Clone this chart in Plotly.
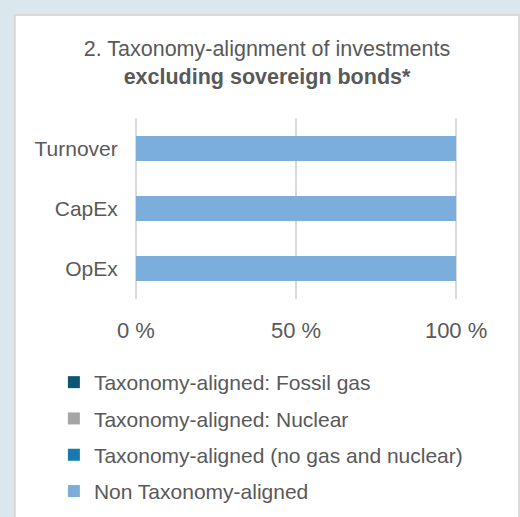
import plotly.graph_objects as go

categories = ["Turnover", "CapEx", "OpEx"]
series_names = [
    "Taxonomy-aligned: Fossil gas",
    "Taxonomy-aligned: Nuclear",
    "Taxonomy-aligned (no gas and nuclear)",
    "Non Taxonomy-aligned",
]
fossil_gas = [0, 0, 0]
nuclear = [0, 0, 0]
aligned_other = [0, 0, 0]
non_aligned = [100, 100, 100]
tick_values = [0, 50, 100]
tick_labels = ["0 %", "50 %", "100 %"]

colors = ["#0b5672", "#a5a5a5", "#167ab0", "#7caedc"]
series_values = [fossil_gas, nuclear, aligned_other, non_aligned]

W, H = 520, 517
pad = 0.6
x_lo, x_hi = -pad, 100 + pad
span_px = 320.0
unit = span_px / 100.0
L = 136 - pad * unit
pw = span_px + 2 * pad * unit
R = W - L - pw
T, B = 118, 218
ph = H - T - B

fig = go.Figure()
for i, (name, vals, col) in enumerate(zip(series_names, series_values, colors)):
    fig.add_trace(go.Bar(
        y=categories, x=vals, name=name, orientation="h",
        marker=dict(color=col, line=dict(width=0)),
        legendgroup=f"g{i}",
    ))

def px_x(p):
    return (p - L) / pw

def px_y(p):
    return (H - B - p) / ph

fig.update_layout(
    width=W, height=H,
    margin=dict(l=L, r=R, t=T, b=B, autoexpand=False),
    paper_bgcolor="#dae8ee",
    plot_bgcolor="white",
    barmode="stack",
    bargap=0.59,
    font=dict(family="Liberation Sans, Arial, sans-serif", color="#595959"),
    title=dict(
        text="2. Taxonomy-alignment of investments<br><b>excluding sovereign bonds*</b>",
        x=267 / W, xref="container", xanchor="center",
        y=1 - 56 / H, yref="container", yanchor="top",
        font=dict(size=21.5, color="#595959"),
    ),
    xaxis=dict(
        range=[x_lo, x_hi], tickvals=tick_values, ticktext=tick_labels,
        showgrid=True, gridcolor="#d9d9d9", gridwidth=1.5,
        zeroline=False, showline=False,
        ticks="outside", ticklen=12, tickcolor="rgba(0,0,0,0)",
        tickfont=dict(size=22, color="#595959"),
        fixedrange=True,
    ),
    yaxis=dict(
        autorange="reversed", showgrid=False, zeroline=False, showline=False,
        ticks="outside", ticklen=11, tickcolor="rgba(0,0,0,0)",
        tickfont=dict(size=21, color="#595959"),
        fixedrange=True,
    ),
    legend=dict(
        x=px_x(54), xanchor="left", xref="paper",
        y=px_y(362), yanchor="top", yref="paper",
        traceorder="grouped", tracegroupgap=6,
        font=dict(size=21, color="#595959"),
        bgcolor="rgba(0,0,0,0)", borderwidth=0,
    ),
    showlegend=True,
    shapes=[dict(
        type="rect", xref="paper", yref="paper", layer="below",
        x0=px_x(15), x1=px_x(519), y0=px_y(530), y1=px_y(15),
        line=dict(color="#d9d9d9", width=2), fillcolor="white",
    )],
)

fig.write_html(
    "out.html",
    config={"displayModeBar": False},
    post_script="document.body.style.margin='0';document.body.style.padding='0';",
)
